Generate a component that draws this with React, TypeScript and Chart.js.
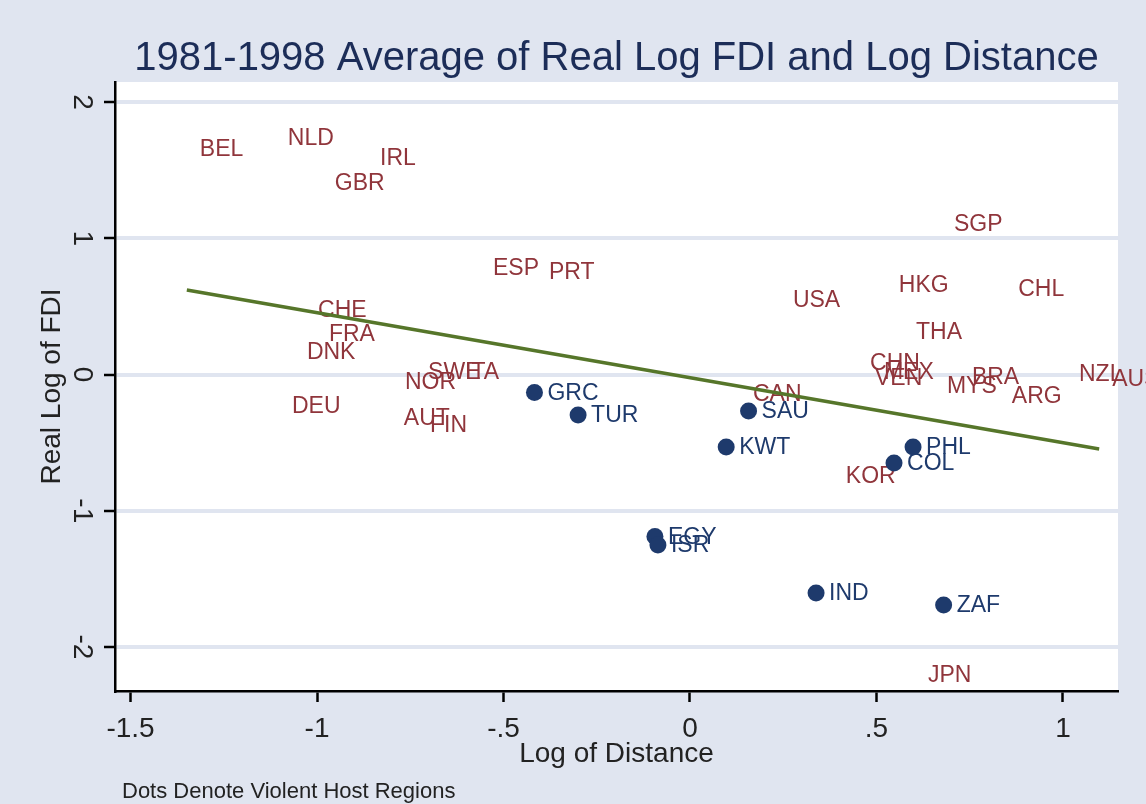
import { useEffect, useRef } from 'react';
import { Chart, registerables } from 'chart.js';

Chart.register(...registerables);

const FONT = "'Liberation Sans', Arial, Helvetica, sans-serif";

// Non-violent host countries (labels only)
const peaceLabels = ['BEL', 'NLD', 'IRL', 'GBR', 'SGP', 'ESP', 'PRT', 'USA', 'HKG', 'CHL', 'THA', 'CHE', 'FRA', 'DNK', 'SWE', 'ITA', 'NOR', 'DEU', 'AUT', 'FIN', 'CAN', 'CHN', 'MEX', 'VEN', 'MYS', 'BRA', 'ARG', 'NZL', 'AUS', 'KOR', 'JPN'];
const peaceX = [-1.349, -1.113, -0.866, -0.987, 0.673, -0.563, -0.413, 0.241, 0.525, 0.845, 0.571, -1.032, -1.003, -1.062, -0.737, -0.638, -0.799, -1.102, -0.802, -0.732, 0.134, 0.448, 0.485, 0.461, 0.654, 0.721, 0.828, 1.008, 1.097, 0.383, 0.603];
const peaceY = [1.659, 1.739, 1.589, 1.406, 1.105, 0.785, 0.756, 0.55, 0.657, 0.631, 0.312, 0.473, 0.297, 0.165, 0.018, 0.018, -0.051, -0.228, -0.319, -0.371, -0.142, 0.088, 0.018, -0.026, -0.084, -0.018, -0.154, 0.004, -0.029, -0.745, -2.206];

// Violent host regions (dots)
const violentLabels = ['GRC', 'TUR', 'SAU', 'KWT', 'PHL', 'COL', 'EGY', 'ISR', 'IND', 'ZAF'];
const violentX = [-0.417, -0.3, 0.157, 0.097, 0.598, 0.547, -0.094, -0.086, 0.338, 0.68];
const violentY = [-0.132, -0.297, -0.268, -0.532, -0.532, -0.65, -1.189, -1.251, -1.604, -1.692];

// Linear fit end points
const fitX = [-1.349, 1.097];
const fitY = [0.62, -0.547];

const xTicks = [-1.5, -1, -0.5, 0, 0.5, 1];
const xTickLabels = ['-1.5', '-1', '-.5', '0', '.5', '1'];
const yTicks = [-2, -1, 0, 1, 2];
const yTickLabels = ['-2', '-1', '0', '1', '2'];

const BG = 'rgb(224,229,240)';
const RED = 'rgb(144,53,59)';
const BLUE = 'rgb(30,58,108)';
const GREEN = 'rgb(86,118,42)';

const bgPlugin = {
  id: 'bgPlugin',
  beforeDraw(chart: any) {
    const { ctx, chartArea } = chart;
    ctx.save();
    ctx.fillStyle = BG;
    ctx.fillRect(0, 0, chart.width, chart.height);
    ctx.fillStyle = '#ffffff';
    ctx.fillRect(chartArea.left, chartArea.top, chartArea.right - chartArea.left, chartArea.bottom - chartArea.top);
    ctx.restore();
  },
  afterDraw(chart: any) {
    const { ctx } = chart;
    ctx.save();
    ctx.font = `22px ${FONT}`;
    ctx.fillStyle = '#222';
    ctx.textAlign = 'left';
    ctx.textBaseline = 'alphabetic';
    ctx.fillText('Dots Denote Violent Host Regions', 122, 798);
    ctx.restore();
  },
};

const labelPlugin = {
  id: 'labelPlugin',
  beforeDatasetsDraw(chart: any) {
    const { ctx } = chart;
    ctx.save();
    ctx.font = `23px ${FONT}`;
    ctx.textAlign = 'left';
    ctx.textBaseline = 'middle';
    chart.data.datasets.forEach((ds: any, i: number) => {
      if (!ds.pointLabels) return;
      const meta = chart.getDatasetMeta(i);
      ctx.fillStyle = ds.labelColor;
      meta.data.forEach((el: any, j: number) => {
        ctx.fillText(ds.pointLabels[j], el.x + 13, el.y + 1);
      });
    });
    ctx.restore();
  },
};

export default function App() {
  const ref = useRef<HTMLCanvasElement | null>(null);

  useEffect(() => {
    document.body.style.margin = '0';
    document.body.style.background = BG;
    if (!ref.current) return;
    const chart = new Chart(ref.current, {
      type: 'scatter',
      data: {
        datasets: [
          {
            label: 'peace',
            data: peaceX.map((x, i) => ({ x, y: peaceY[i] })),
            pointRadius: 0,
            pointHoverRadius: 0,
            pointLabels: peaceLabels,
            labelColor: RED,
          } as any,
          {
            label: 'violent',
            data: violentX.map((x, i) => ({ x, y: violentY[i] })),
            pointRadius: 8.5,
            pointHoverRadius: 8.5,
            pointBackgroundColor: BLUE,
            pointBorderWidth: 0,
            backgroundColor: BLUE,
            pointLabels: violentLabels,
            labelColor: BLUE,
          } as any,
          {
            label: 'fit',
            data: fitX.map((x, i) => ({ x, y: fitY[i] })),
            showLine: true,
            borderColor: GREEN,
            borderWidth: 3.5,
            pointRadius: 0,
            pointHoverRadius: 0,
          } as any,
        ],
      },
      options: {
        responsive: false,
        animation: false,
        events: [],
        layout: { padding: { left: 0, right: 28, top: 0, bottom: 0 } },
        plugins: {
          legend: { display: false },
          tooltip: { enabled: false },
          title: {
            display: true,
            text: '1981-1998 Average of Real Log FDI and Log Distance',
            fullSize: false,
            color: 'rgb(28,45,88)',
            font: { family: FONT, size: 40, weight: 'normal' as any, lineHeight: 1.15 },
            padding: { top: 36, bottom: 0 },
          },
        },
        scales: {
          x: {
            type: 'linear',
            position: 'bottom',
            min: -1.5416,
            max: 1.1475,
            afterBuildTicks: (scale: any) => {
              scale.ticks = xTicks.map((v) => ({ value: v }));
            },
            afterFit: (scale: any) => {
              scale.height = 113;
            },
            grid: {
              display: true,
              drawOnChartArea: false,
              drawTicks: true,
              tickLength: 11,
              tickWidth: 2.5,
              tickColor: '#000',
            },
            border: { display: true, color: '#000', width: 2.5 },
            ticks: {
              autoSkip: false,
              minRotation: 0,
              maxRotation: 0,
              padding: 10,
              color: '#222',
              font: { family: FONT, size: 28 },
              callback: (v: any) => xTickLabels[xTicks.indexOf(Number(v))],
            },
            title: {
              display: true,
              text: 'Log of Distance',
              color: '#222',
              font: { family: FONT, size: 28 },
              padding: { top: 0, bottom: 33 },
            },
          },
          y: {
            type: 'linear',
            position: 'left',
            min: -2.323,
            max: 2.147,
            afterBuildTicks: (scale: any) => {
              scale.ticks = yTicks.map((v) => ({ value: v }));
            },
            afterFit: (scale: any) => {
              scale.width = 115;
            },
            grid: {
              display: true,
              drawOnChartArea: true,
              color: BG,
              lineWidth: 4,
              drawTicks: true,
              tickLength: 11,
              tickWidth: 2.5,
              tickColor: '#000',
            },
            border: { display: true, color: '#000', width: 2.5 },
            ticks: {
              autoSkip: false,
              minRotation: -90,
              maxRotation: -90,
              crossAlign: 'center',
              padding: 10,
              color: '#222',
              font: { family: FONT, size: 28 },
              callback: (v: any) => yTickLabels[yTicks.indexOf(Number(v))],
            },
            title: {
              display: true,
              text: 'Real Log of FDI',
              color: '#222',
              font: { family: FONT, size: 28 },
              padding: { top: 35, bottom: 0 },
            },
          },
        },
      } as any,
      plugins: [bgPlugin, labelPlugin],
    });
    return () => chart.destroy();
  }, []);

  return (
    <div style={{ width: 1146, height: 804, background: BG }}>
      <canvas ref={ref} width={1146} height={804} style={{ display: 'block' }} />
    </div>
  );
}
